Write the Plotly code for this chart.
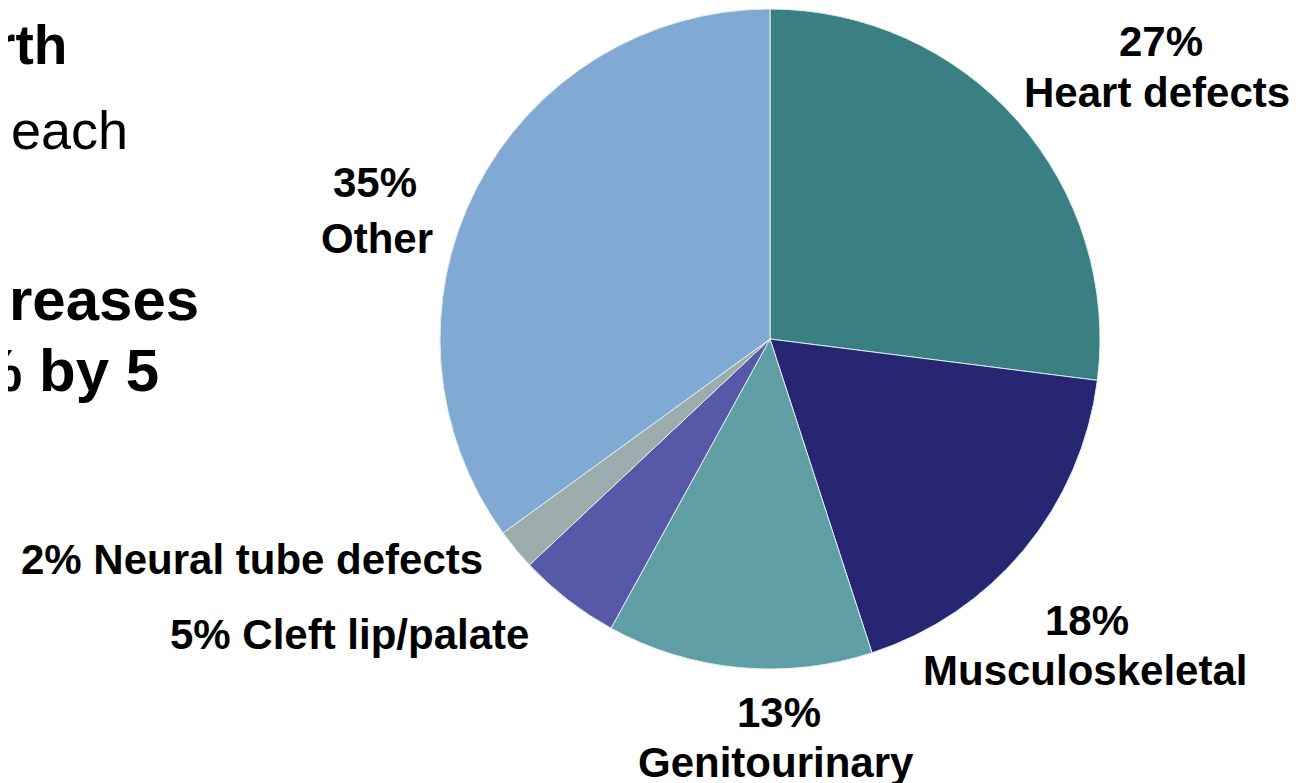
import plotly.graph_objects as go

W, H = 1299, 783

# slice data, clockwise from 12 o'clock
categories = ["Heart defects", "Musculoskeletal", "Genitourinary", "Cleft lip/palate", "Neural tube defects", "Other"]
shares = [27, 18, 13, 5, 2, 35]
slice_colors = ["#3A7F82", "#262673", "#5F9EA4", "#5858A9", "#9BACAC", "#80AAD4"]

# label lines around the pie: (text, center x px, center y px)
pie_labels = [
    ("27%", 1153, 33), ("Heart defects", 1149, 85),
    ("35%", 367, 174), ("Other", 369, 230),
    ("2% Neural tube defects", 244, 551),
    ("5% Cleft lip/palate", 341, 626),
    ("18%", 1079, 612), ("Musculoskeletal", 1077, 662),
    ("13%", 771, 704), ("Genitourinary", 768, 754),
]

# slide body text cut off at the left edge: (text, right edge px, center y px, bold, size)
side_text = [
    ("rth", 61, 37, True, 55),
    ("each", 122, 122, False, 54),
    ("reases", 193, 291, True, 60),
    ("% by 5", 153, 362, True, 60),
]

fig = go.Figure(go.Pie(
    labels=categories, values=shares, sort=False, direction="clockwise", rotation=0,
    marker=dict(colors=slice_colors, line=dict(color="#dfeeee", width=1)),
    textinfo="none", hoverinfo="label+percent", showlegend=False,
    domain=dict(x=[432 / W, 1092 / W], y=[1 - 661 / H, 1 - 1 / H]),
))

for txt, x, y in pie_labels:
    fig.add_annotation(text=f"<b>{txt}</b>", x=x / W, y=1 - y / H, xref="paper", yref="paper",
                       xanchor="center", yanchor="middle", showarrow=False,
                       font=dict(family="Liberation Sans, Arial", size=42, color="black"))

for txt, x, y, bold, size in side_text:
    fig.add_annotation(text=f"<b>{txt}</b>" if bold else txt, x=x / W, y=1 - y / H, xref="paper", yref="paper",
                       xanchor="right", yanchor="middle", showarrow=False,
                       font=dict(family="Liberation Sans, Arial", size=size, color="black"))

fig.update_layout(width=W, height=H, margin=dict(l=0, r=0, t=0, b=0),
                  paper_bgcolor="white", plot_bgcolor="white")
fig.write_html("out.html")
